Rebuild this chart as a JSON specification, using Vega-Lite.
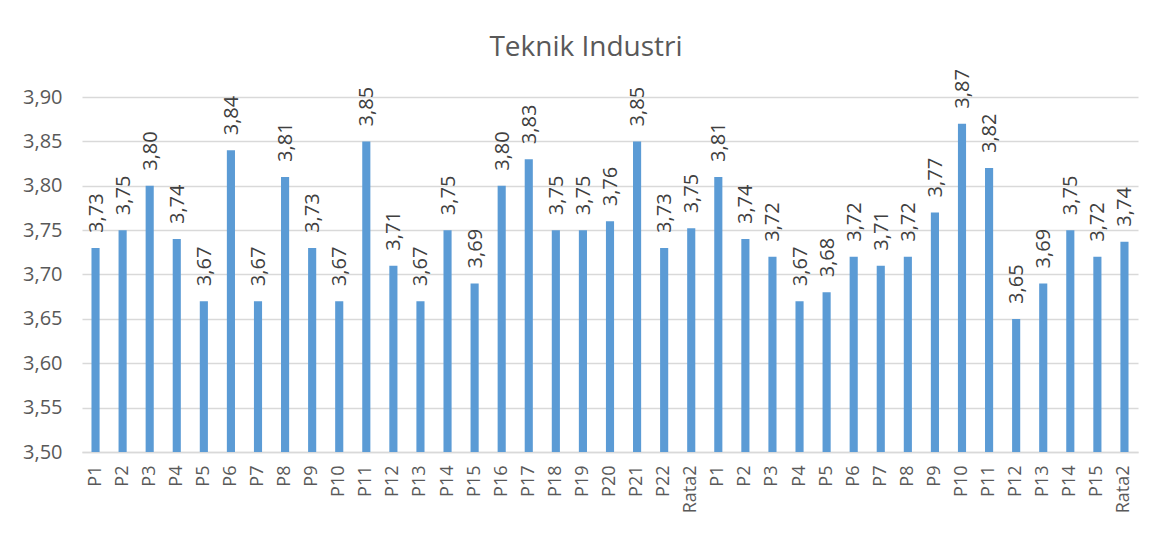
{
  "$schema": "https://vega.github.io/schema/vega-lite/v6.json",
  "width": 1056,
  "height": 355,
  "autosize": {"type": "none"},
  "padding": {"left": 82, "top": 97, "right": 28, "bottom": 81},
  "background": "white",
  "title": {
    "text": "Teknik Industri",
    "fontSize": 28,
    "font": "Open Sans",
    "fontWeight": "normal",
    "color": "#595959",
    "anchor": "middle",
    "dx": -24,
    "offset": 7
  },
  "data": {
    "values": [
      {"id": "a01", "label": "P1", "value": 3.73},
      {"id": "a02", "label": "P2", "value": 3.75},
      {"id": "a03", "label": "P3", "value": 3.80},
      {"id": "a04", "label": "P4", "value": 3.74},
      {"id": "a05", "label": "P5", "value": 3.67},
      {"id": "a06", "label": "P6", "value": 3.84},
      {"id": "a07", "label": "P7", "value": 3.67},
      {"id": "a08", "label": "P8", "value": 3.81},
      {"id": "a09", "label": "P9", "value": 3.73},
      {"id": "a10", "label": "P10", "value": 3.67},
      {"id": "a11", "label": "P11", "value": 3.85},
      {"id": "a12", "label": "P12", "value": 3.71},
      {"id": "a13", "label": "P13", "value": 3.67},
      {"id": "a14", "label": "P14", "value": 3.75},
      {"id": "a15", "label": "P15", "value": 3.69},
      {"id": "a16", "label": "P16", "value": 3.80},
      {"id": "a17", "label": "P17", "value": 3.83},
      {"id": "a18", "label": "P18", "value": 3.75},
      {"id": "a19", "label": "P19", "value": 3.75},
      {"id": "a20", "label": "P20", "value": 3.76},
      {"id": "a21", "label": "P21", "value": 3.85},
      {"id": "a22", "label": "P22", "value": 3.73},
      {"id": "a23", "label": "Rata2", "value": 3.752},
      {"id": "b01", "label": "P1", "value": 3.81},
      {"id": "b02", "label": "P2", "value": 3.74},
      {"id": "b03", "label": "P3", "value": 3.72},
      {"id": "b04", "label": "P4", "value": 3.67},
      {"id": "b05", "label": "P5", "value": 3.68},
      {"id": "b06", "label": "P6", "value": 3.72},
      {"id": "b07", "label": "P7", "value": 3.71},
      {"id": "b08", "label": "P8", "value": 3.72},
      {"id": "b09", "label": "P9", "value": 3.77},
      {"id": "b10", "label": "P10", "value": 3.87},
      {"id": "b11", "label": "P11", "value": 3.82},
      {"id": "b12", "label": "P12", "value": 3.65},
      {"id": "b13", "label": "P13", "value": 3.69},
      {"id": "b14", "label": "P14", "value": 3.75},
      {"id": "b15", "label": "P15", "value": 3.72},
      {"id": "b16", "label": "Rata2", "value": 3.737}
    ]
  },
  "encoding": {
    "x": {
      "field": "id",
      "type": "nominal",
      "sort": null,
      "scale": {"paddingInner": 0.7, "paddingOuter": 0.35},
      "axis": {
        "title": null,
        "labelExpr": "{'a01':'P1','a02':'P2','a03':'P3','a04':'P4','a05':'P5','a06':'P6','a07':'P7','a08':'P8','a09':'P9','a10':'P10','a11':'P11','a12':'P12','a13':'P13','a14':'P14','a15':'P15','a16':'P16','a17':'P17','a18':'P18','a19':'P19','a20':'P20','a21':'P21','a22':'P22','a23':'Rata2','b01':'P1','b02':'P2','b03':'P3','b04':'P4','b05':'P5','b06':'P6','b07':'P7','b08':'P8','b09':'P9','b10':'P10','b11':'P11','b12':'P12','b13':'P13','b14':'P14','b15':'P15','b16':'Rata2'}[datum.value]",
        "labelAngle": -90,
        "labelAlign": "right",
        "labelBaseline": "middle",
        "labelFontSize": 18,
        "labelFont": "Open Sans",
        "labelColor": "#595959",
        "labelPadding": 13,
        "ticks": false,
        "domainColor": "#d9d9d9",
        "domainWidth": 1.5,
        "grid": false
      }
    },
    "y": {
      "field": "value",
      "type": "quantitative",
      "scale": {"domain": [3.5, 3.9], "zero": false, "nice": false},
      "axis": {
        "title": null,
        "values": [3.5, 3.55, 3.6, 3.65, 3.7, 3.75, 3.8, 3.85, 3.9],
        "labelExpr": "replace(format(datum.value, '.2f'), '.', ',')",
        "labelFontSize": 20,
        "labelFont": "Open Sans",
        "labelColor": "#595959",
        "labelPadding": 20,
        "ticks": false,
        "domain": false,
        "gridColor": "#d9d9d9",
        "gridWidth": 1.5
      }
    }
  },
  "layer": [
    {
      "mark": {"type": "bar", "color": "#5b9bd5"},
      "encoding": {"y2": {"datum": 3.5}}
    },
    {
      "mark": {
        "type": "text",
        "angle": 270,
        "align": "left",
        "baseline": "middle",
        "dx": 15,
        "dy": 1,
        "fontSize": 20,
        "font": "Open Sans",
        "color": "#404040"
      },
      "encoding": {
        "text": {"field": "fmt"}
      },
      "transform": [
        {"calculate": "replace(format(datum.value, '.2f'), '.', ',')", "as": "fmt"}
      ]
    }
  ],
  "config": {"view": {"stroke": null}}
}
